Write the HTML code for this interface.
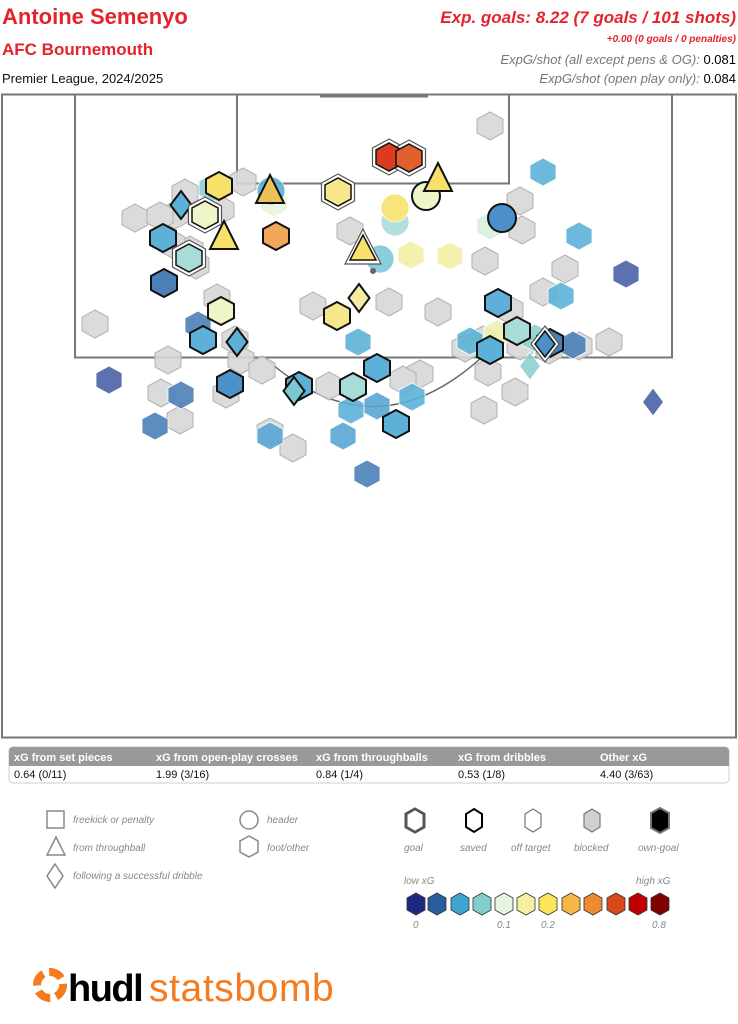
<!DOCTYPE html>
<html><head><meta charset="utf-8">
<style>
body{margin:0;width:738px;height:1024px;background:#fff;font-family:"Liberation Sans",sans-serif;position:relative;overflow:hidden}
.t{position:absolute;white-space:nowrap}
.r{color:#e3242b}
.it{font-style:italic}
</style></head><body>
<div class="t r" style="left:2px;top:4px;font-size:22px;font-weight:bold">Antoine Semenyo</div>
<div class="t r" style="left:2px;top:40px;font-size:17px;font-weight:bold">AFC Bournemouth</div>
<div class="t" style="left:2px;top:71px;font-size:13px;color:#111">Premier League, 2024/2025</div>
<div class="t r it" style="right:2px;top:8px;font-size:17px;font-weight:bold">Exp. goals: 8.22 (7 goals / 101 shots)</div>
<div class="t r it" style="right:2px;top:34px;font-size:10px;font-weight:bold">+0.00 (0 goals / 0 penalties)</div>
<div class="t" style="right:2px;top:52px;font-size:13px"><span class="it" style="color:#777">ExpG/shot (all except pens &amp; OG):</span> 0.081</div>
<div class="t" style="right:2px;top:71px;font-size:13px"><span class="it" style="color:#777">ExpG/shot (open play only):</span> 0.084</div>

<svg width="738" height="1024" style="position:absolute;left:0;top:0" xmlns="http://www.w3.org/2000/svg">
<defs>
<polygon id="h" points="0,-14 13,-7 13,7 0,14 -13,7 -13,-7"/>
<polygon id="hg" points="0,-18 16.5,-9 16.5,9 0,18 -16.5,9 -16.5,-9"/>
<polygon id="d" points="0,-14 10.5,0 0,14 -10.5,0"/>
<polygon id="t" points="0,-17 14,11 -14,11"/>
</defs>
<rect x="2" y="94.5" width="734" height="643" fill="none" stroke="#777" stroke-width="2"/>
<rect x="75" y="94.5" width="597" height="263" fill="none" stroke="#777" stroke-width="2"/>
<rect x="237" y="94.5" width="272" height="89" fill="none" stroke="#777" stroke-width="2"/>
<line x1="320" y1="96" x2="428" y2="96" stroke="#777" stroke-width="3"/>
<path d="M265,358 Q373,455 481,358" fill="none" stroke="#666" stroke-width="1.5"/>

<g fill="#d8d8d8" stroke="#aaa" stroke-width="1" opacity="0.9">
<use href="#h" x="490" y="126"/><use href="#h" x="243" y="182"/><use href="#h" x="135" y="218"/><use href="#h" x="175" y="215"/><use href="#h" x="221" y="210"/><use href="#h" x="185" y="193"/><use href="#h" x="350" y="231"/><use href="#h" x="520" y="201"/><use href="#h" x="522" y="230"/><use href="#h" x="485" y="261"/><use href="#h" x="565" y="269"/><use href="#h" x="543" y="292"/><use href="#h" x="510" y="310"/><use href="#h" x="483" y="340"/><use href="#h" x="465" y="348"/><use href="#h" x="520" y="346"/><use href="#h" x="579" y="346"/><use href="#h" x="609" y="342"/><use href="#h" x="313" y="306"/><use href="#h" x="389" y="302"/><use href="#h" x="438" y="312"/><use href="#h" x="217" y="298"/><use href="#h" x="95" y="324"/><use href="#h" x="168" y="360"/><use href="#h" x="241" y="360"/><use href="#h" x="262" y="370"/><use href="#h" x="161" y="393"/><use href="#h" x="180" y="420"/><use href="#h" x="293" y="448"/><use href="#h" x="270" y="432"/><use href="#h" x="226" y="394"/><use href="#h" x="484" y="410"/><use href="#h" x="515" y="392"/><use href="#h" x="488" y="372"/><use href="#h" x="420" y="374"/><use href="#h" x="329" y="386"/><use href="#h" x="403" y="380"/><use href="#h" x="190" y="250"/><use href="#h" x="172" y="244"/><use href="#h" x="196" y="265"/><use href="#h" x="160" y="216"/><use href="#h" x="235" y="340"/><use href="#h" x="549" y="350"/>
</g>

<g stroke="#fff" stroke-width="0.8" opacity="0.9">
<use href="#h" x="543" y="172" fill="#5db1d8"/><use href="#h" x="579" y="236" fill="#5db1d8"/><use href="#h" x="626" y="274" fill="#4a62a8"/><use href="#h" x="561" y="296" fill="#5db1d8"/><use href="#h" x="109" y="380" fill="#4a62a8"/><use href="#h" x="181" y="395" fill="#4b7fb8"/><use href="#h" x="155" y="426" fill="#4b7fb8"/><use href="#h" x="367" y="474" fill="#4b7fb8"/><use href="#h" x="343" y="436" fill="#5aa6d3"/><use href="#h" x="351" y="410" fill="#5db1d8"/><use href="#h" x="377" y="406" fill="#5aa6d3"/><use href="#h" x="270" y="436" fill="#5aa6d3"/><use href="#h" x="412" y="397" fill="#5db1d8"/><use href="#h" x="358" y="342" fill="#5db1d8"/><use href="#h" x="198" y="325" fill="#4b7fb8"/><use href="#h" x="470" y="341" fill="#5db1d8"/><use href="#h" x="497" y="334" fill="#eef0b0"/><use href="#h" x="535" y="338" fill="#8fd0d0"/><use href="#h" x="573" y="345" fill="#4b7fb8"/><use href="#h" x="411" y="255" fill="#f1f0a8"/><use href="#h" x="450" y="256" fill="#f1f0a8"/><use href="#h" x="490" y="226" fill="#d8f0e0"/><use href="#h" x="274" y="203" fill="#e8f5dc"/><use href="#h" x="212" y="188" fill="#8fd0d0"/><use href="#d" x="653" y="402" fill="#4a62a8"/><use href="#d" x="530" y="366" fill="#8fd0d0"/>
<circle cx="271" cy="191" r="14" fill="#5db1d8"/><circle cx="395" cy="222" r="14" fill="#a8dcd8"/><circle cx="380" cy="259" r="14" fill="#7dc8d8"/><circle cx="395" cy="208" r="14" fill="#f8e16b"/>
</g>

<g stroke="#111" stroke-width="2">
<use href="#h" x="219" y="186" fill="#f8e16b"/><use href="#d" x="181" y="205" fill="#5db1d8"/><use href="#h" x="163" y="238" fill="#5db1d8"/><use href="#h" x="164" y="283" fill="#4b7fb8"/><use href="#h" x="221" y="311" fill="#eef5c8"/><use href="#h" x="203" y="340" fill="#5db1d8"/><use href="#d" x="237" y="342" fill="#5db1d8"/><use href="#h" x="230" y="384" fill="#4b90c8"/><use href="#h" x="276" y="236" fill="#f2a65a"/><use href="#h" x="337" y="316" fill="#f6e88a"/><use href="#d" x="359" y="298" fill="#f6eca0"/><circle cx="426" cy="196" r="14" fill="#eef5c8"/><use href="#t" x="438" y="180" fill="#f8e16b"/><use href="#t" x="224" y="238" fill="#f8e16b"/><use href="#t" x="270" y="192" fill="#edc05a"/><circle cx="502" cy="218" r="14" fill="#4b90c8"/><use href="#h" x="498" y="303" fill="#5db1d8"/><use href="#h" x="517" y="331" fill="#a8dcd8"/><use href="#h" x="490" y="350" fill="#5db1d8"/><use href="#h" x="550" y="343" fill="#4b7fb8"/><use href="#h" x="299" y="386" fill="#5db1d8"/><use href="#d" x="294" y="391" fill="#7dc8d0"/><use href="#h" x="353" y="387" fill="#a8dcd8"/><use href="#h" x="377" y="368" fill="#5db1d8"/><use href="#h" x="396" y="424" fill="#5db1d8"/>
</g>

<g stroke="#555" stroke-width="1.2" fill="#fff">
<use href="#hg" x="389" y="157"/><use href="#hg" x="409" y="158"/><use href="#hg" x="338" y="192"/><use href="#hg" x="205" y="215"/><use href="#hg" x="189" y="258"/>
<polygon points="363,229 381,264 345,264"/><polygon points="545,326 559,344 545,362 531,344"/>
</g>
<g stroke="#111" stroke-width="1.5">
<use href="#h" x="389" y="157" fill="#dd3a22"/><use href="#h" x="409" y="158" fill="#e0602e"/><use href="#h" x="338" y="192" fill="#f6e88a"/><use href="#h" x="205" y="215" fill="#eef5c8"/><use href="#h" x="189" y="258" fill="#a8dcd8"/>
<polygon points="363,235 376,260 350,260" fill="#f8e16b"/><polygon points="545,331 555,344 545,357 535,344" fill="#4b90c8"/>
</g>
<circle cx="373" cy="271" r="3" fill="#666"/>

<rect x="9" y="747" width="720" height="36" rx="4" fill="#fff" stroke="#ccc"/>
<path d="M9,766 V751 a4,4 0 0 1 4,-4 H725 a4,4 0 0 1 4,4 V766 Z" fill="#999"/>
<g font-family="Liberation Sans,sans-serif" font-size="11" font-weight="bold" fill="#fff">
<text x="14" y="761">xG from set pieces</text><text x="156" y="761">xG from open-play crosses</text><text x="316" y="761">xG from throughballs</text><text x="458" y="761">xG from dribbles</text><text x="600" y="761">Other xG</text></g>
<g font-family="Liberation Sans,sans-serif" font-size="11" fill="#111">
<text x="14" y="778">0.64 (0/11)</text><text x="156" y="778">1.99 (3/16)</text><text x="316" y="778">0.84 (1/4)</text><text x="458" y="778">0.53 (1/8)</text><text x="600" y="778">4.40 (3/63)</text></g>

<g fill="none" stroke="#888" stroke-width="1.5">
<rect x="47" y="811" width="17" height="17"/><polygon points="56,837 65,855 47,855"/><polygon points="55,864 63,876 55,888 47,876"/>
<circle cx="249" cy="820" r="9"/><polygon points="249,836 258,841 258,852 249,857 240,852 240,841"/>
</g>
<g font-family="Liberation Sans,sans-serif" font-size="10" font-style="italic" fill="#888">
<text x="73" y="823">freekick or penalty</text><text x="73" y="851">from throughball</text><text x="73" y="879">following a successful dribble</text>
<text x="267" y="823">header</text><text x="267" y="851">foot/other</text>
<text x="404" y="851">goal</text><text x="460" y="851">saved</text><text x="511" y="851">off target</text><text x="574" y="851">blocked</text><text x="638" y="851">own-goal</text>
<text x="404" y="884">low xG</text><text x="636" y="884">high xG</text>
<text x="413" y="928">0</text><text x="497" y="928">0.1</text><text x="541" y="928">0.2</text><text x="652" y="928">0.8</text>
</g>
<g stroke-width="1.2">
<polygon points="415,809 424,814 424,827 415,832 406,827 406,814" fill="#fff" stroke="#555" stroke-width="3"/>
<polygon points="415,811 422,815 422,826 415,830 408,826 408,815" fill="#fff" stroke="#fff" stroke-width="1"/>
<polygon points="474,809 482,814 482,827 474,832 466,827 466,814" fill="#fff" stroke="#000" stroke-width="2"/>
<polygon points="533,809 541,814 541,827 533,832 525,827 525,814" fill="#fff" stroke="#777"/>
<polygon points="592,809 600,814 600,827 592,832 584,827 584,814" fill="#d0d0d0" stroke="#777"/>
<polygon points="660,808 669,813 669,828 660,833 651,828 651,813" fill="#000" stroke="#777" stroke-width="2"/>
</g>
<g stroke="#333" stroke-width="0.8">
<polygon points="416,893 425,898 425,910 416,915 407,910 407,898" fill="#1b2a80"/>
<polygon points="437,893 446,898 446,910 437,915 428,910 428,898" fill="#2a5ca0"/>
<polygon points="460,893 469,898 469,910 460,915 451,910 451,898" fill="#3ea6d0"/>
<polygon points="482,893 491,898 491,910 482,915 473,910 473,898" fill="#80cece"/>
<polygon points="504,893 513,898 513,910 504,915 495,910 495,898" fill="#e6f5e0"/>
<polygon points="526,893 535,898 535,910 526,915 517,910 517,898" fill="#f4f0a0"/>
<polygon points="548,893 557,898 557,910 548,915 539,910 539,898" fill="#fce65a"/>
<polygon points="571,893 580,898 580,910 571,915 562,910 562,898" fill="#f6b648"/>
<polygon points="593,893 602,898 602,910 593,915 584,910 584,898" fill="#ee8a32"/>
<polygon points="616,893 625,898 625,910 616,915 607,910 607,898" fill="#d64a1a"/>
<polygon points="638,893 647,898 647,910 638,915 629,910 629,898" fill="#c00000"/>
<polygon points="660,893 669,898 669,910 660,915 651,910 651,898" fill="#800000"/>
</g>

<circle cx="50" cy="985" r="13" fill="none" stroke="#f47b20" stroke-width="8" stroke-dasharray="14 6"/>
<text x="68" y="1001" font-family="Liberation Sans,sans-serif" font-size="38" font-weight="bold" fill="#000" letter-spacing="-1.5">hudl</text>
<text x="149" y="1001" font-family="Liberation Sans,sans-serif" font-size="39" fill="#f47b20" letter-spacing="0.6">statsbomb</text>
</svg>
</body></html>
